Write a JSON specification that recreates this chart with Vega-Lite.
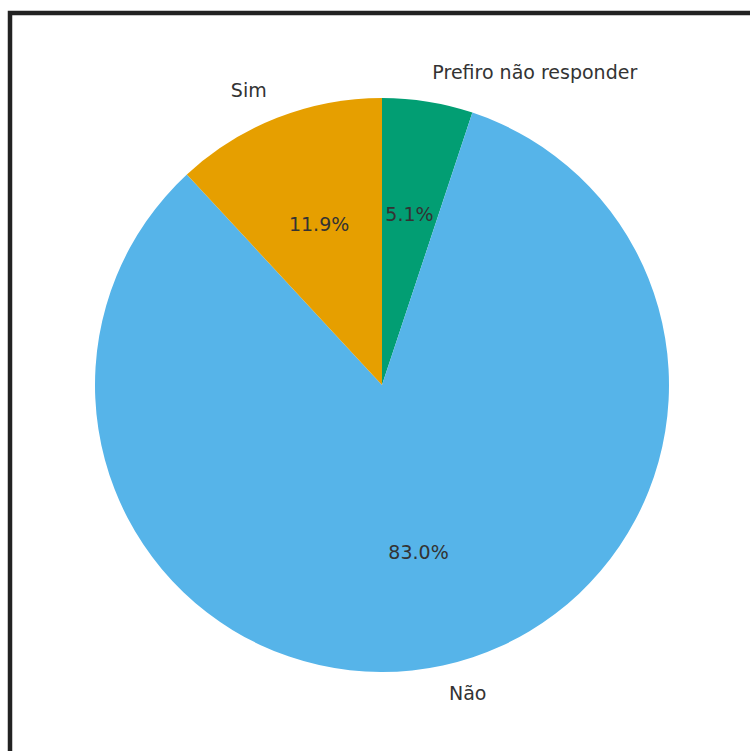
{
  "$schema": "https://vega.github.io/schema/vega-lite/v6.json",
  "width": 744,
  "height": 744,
  "autosize": {"type": "none"},
  "padding": {"left": 10, "top": 13, "right": 0, "bottom": 0},
  "background": "white",
  "view": {"stroke": "#222222", "strokeWidth": 4.5, "fill": "white"},
  "config": {
    "view": {"stroke": "#222222", "strokeWidth": 4.5},
    "text": {"font": "DejaVu Sans"}
  },
  "data": {
    "values": [
      {"resposta": "Prefiro não responder", "valor": 0.051},
      {"resposta": "Não", "valor": 0.830},
      {"resposta": "Sim", "valor": 0.119}
    ]
  },
  "transform": [
    {"window": [{"op": "row_number", "as": "ordem"}]}
  ],
  "encoding": {
    "theta": {"field": "valor", "type": "quantitative", "stack": true},
    "order": {"field": "ordem", "type": "quantitative"}
  },
  "layer": [
    {
      "mark": {"type": "arc", "radius": 287},
      "encoding": {
        "color": {
          "field": "resposta",
          "type": "nominal",
          "scale": {
            "domain": ["Prefiro não responder", "Não", "Sim"],
            "range": ["#029E73", "#56B4E9", "#E69F00"]
          },
          "legend": null
        }
      }
    },
    {
      "mark": {"type": "text", "radius": 172.2, "fontSize": 19, "fill": "#333333", "align": "center", "baseline": "middle"},
      "encoding": {
        "text": {"field": "valor", "type": "quantitative", "format": ".1%"}
      }
    },
    {
      "mark": {
        "type": "text",
        "radius": 315.7,
        "fontSize": 19,
        "fill": "#333333",
        "baseline": "middle",
        "align": {"expr": "datum.resposta === 'Sim' ? 'right' : 'left'"}
      },
      "encoding": {
        "text": {"field": "resposta", "type": "nominal"}
      }
    }
  ]
}
